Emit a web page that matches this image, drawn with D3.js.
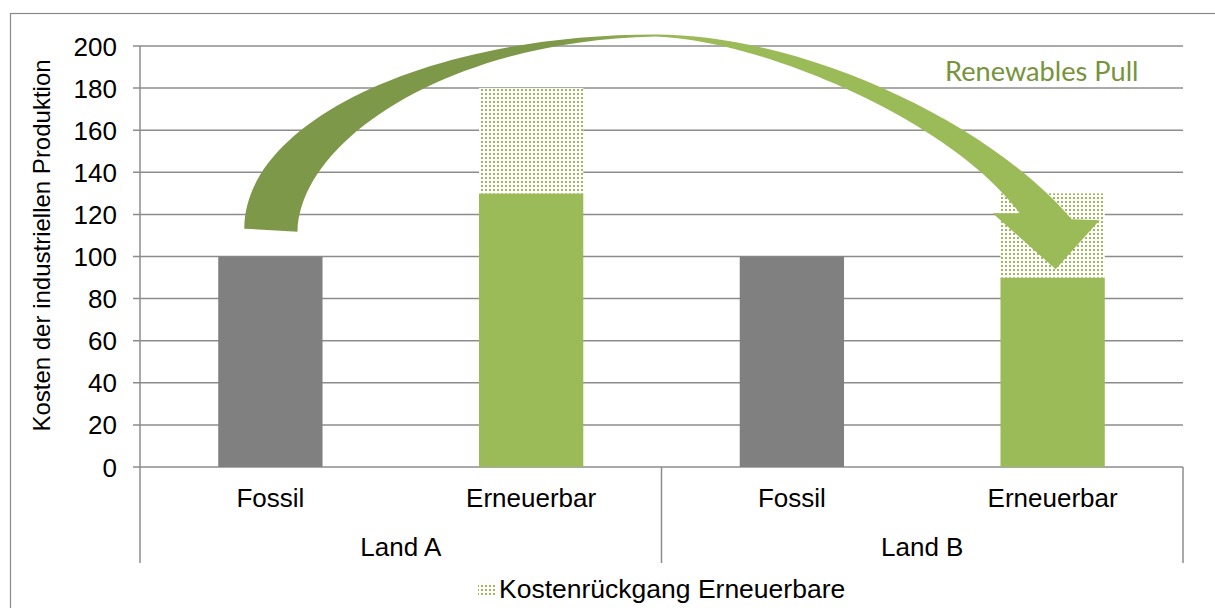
<!DOCTYPE html>
<html>
<head>
<meta charset="utf-8">
<script src="https://cdn.jsdelivr.net/npm/d3@7"></script>
<style>
  html, body { margin: 0; padding: 0; background: #fff; }
  svg { display: block; }
  text { font-family: "Liberation Sans", Arial, sans-serif; fill: #000; }
</style>
</head>
<body>
<svg id="chart" width="1215" height="608"></svg>
<script>
// Cost of industrial production per country and technology
const categories = ["A-Fossil", "A-Erneuerbar", "B-Fossil", "B-Erneuerbar"];
const categoryLabels = ["Fossil", "Erneuerbar", "Fossil", "Erneuerbar"];
const groups = ["Land A", "Land B"];
const baseCost = [100, 130, 100, 90];
const costDecline = [0, 50, 0, 40];           // dotted part stacked on top
const isFossil = [true, false, true, false];
const yTicks = [0, 20, 40, 60, 80, 100, 120, 140, 160, 180, 200];
const legendLabel = "Kostenrückgang Erneuerbare";
const yTitle = "Kosten der industriellen Produktion";
const arrowLabel = "Renewables Pull";
// arrow anchors (values on the cost axis)
const arrowTailValue = 112.5, arrowTopValue = 205.5, arrowTipValue = 94;

const svg = d3.select("#chart");
const plot = { left: 140, right: 1183, top: 46, bottom: 467 };
const axisBottom = 563;

const x = d3.scaleBand().domain(categories)
  .range([plot.left, plot.right]).paddingInner(0.6).paddingOuter(0.3);
const y = d3.scaleLinear().domain([0, 200]).range([plot.bottom, plot.top]);
const step = x.step(), bw = x.bandwidth();

const defs = svg.append("defs");
const pat = defs.append("pattern").attr("id", "dots")
  .attr("patternUnits", "userSpaceOnUse").attr("width", 4).attr("height", 4);
pat.append("rect").attr("width", 4).attr("height", 4).attr("fill", "#fff");
pat.append("rect").attr("x", 1).attr("y", 1).attr("width", 2).attr("height", 2).attr("fill", "#9BBB59");

const xMid = (x(categories[1]) + bw + x(categories[2])) / 2;
const grad = defs.append("linearGradient").attr("id", "arrowGrad")
  .attr("gradientUnits", "userSpaceOnUse")
  .attr("x1", xMid - 100).attr("x2", xMid + 20).attr("y1", 0).attr("y2", 0);
grad.append("stop").attr("offset", 0).attr("stop-color", "#7D9848");
grad.append("stop").attr("offset", 1).attr("stop-color", "#9BBB59");

// chart frame
svg.append("rect").attr("x", 10.5).attr("y", 13.5).attr("width", 1230).attr("height", 620)
  .attr("fill", "none").attr("stroke", "#8a8a8a").attr("stroke-width", 1.2);

// gridlines and ticks
const gridColor = "#8c8c8c";
svg.append("g").selectAll("line").data(yTicks).join("line")
  .attr("x1", plot.left - 7).attr("x2", plot.right)
  .attr("y1", d => y(d)).attr("y2", d => y(d))
  .attr("stroke", gridColor).attr("stroke-width", 1.5);

svg.append("g").selectAll("text").data(yTicks).join("text")
  .attr("x", plot.left - 23).attr("y", d => y(d) + 9.5)
  .attr("text-anchor", "end").attr("font-size", 26).text(d => d);

// axis lines
svg.append("line").attr("x1", plot.left).attr("x2", plot.left)
  .attr("y1", plot.top).attr("y2", axisBottom).attr("stroke", gridColor).attr("stroke-width", 1.5);
const sepX = [plot.left, x(categories[2]) - (step - bw) / 2, plot.right];
svg.append("g").selectAll("line").data(sepX.slice(1)).join("line")
  .attr("x1", d => d).attr("x2", d => d).attr("y1", plot.bottom).attr("y2", axisBottom)
  .attr("stroke", gridColor).attr("stroke-width", 1.5);

// bars
const idx = d3.range(categories.length);
svg.append("g").selectAll("rect").data(idx).join("rect")
  .attr("x", i => x(categories[i])).attr("width", bw)
  .attr("y", i => y(baseCost[i])).attr("height", i => y(0) - y(baseCost[i]))
  .attr("fill", i => isFossil[i] ? "#808080" : "#9BBB59");
svg.append("g").selectAll("rect").data(idx.filter(i => costDecline[i] > 0)).join("rect")
  .attr("x", i => x(categories[i])).attr("width", bw)
  .attr("y", i => y(baseCost[i] + costDecline[i]))
  .attr("height", i => y(baseCost[i]) - y(baseCost[i] + costDecline[i]))
  .attr("fill", "url(#dots)");

// category labels
svg.append("g").selectAll("text").data(idx).join("text")
  .attr("x", i => x(categories[i]) + bw / 2).attr("y", 507)
  .attr("text-anchor", "middle").attr("font-size", 26).text(i => categoryLabels[i]);
svg.append("g").selectAll("text").data(groups).join("text")
  .attr("x", (g, j) => (sepX[j] + sepX[j + 1]) / 2).attr("y", 556)
  .attr("text-anchor", "middle").attr("font-size", 26).text(g => g);

// y axis title
svg.append("text").attr("transform", `translate(50,${(plot.top + plot.bottom) / 2 - 11}) rotate(-90)`)
  .attr("text-anchor", "middle").attr("font-size", 24).text(yTitle);

// curved arrow
const xc = c => x(c) + bw / 2;
const x0 = xc(categories[0]), yT = y(arrowTailValue);
const xTop = xMid - 6, yTopO = y(arrowTopValue), yTopI = yTopO + 2;
const xTip = xc(categories[3]), yTip = y(arrowTipValue);
const tO = [x0 - 0.25 * bw, yT - 1.5], tI = [x0 + 0.26 * bw, yT + 1.5];
const topO = [xTop, yTopO], topI = [xTop, yTopI];
const rJoin = [xTip + 19, yTip - 50], rBarb = [xTip + 47, yTip - 49];
const tip = [xTip + 3, yTip];
const lBarb = [xTip - 60, yTip - 56], lJoin = [xTip - 33, yTip - 56];

const p = d3.path();
p.moveTo(...tO);
p.bezierCurveTo(tO[0], tO[1] - 0.552 * (tO[1] - topO[1]),
  topO[0] - 0.552 * (topO[0] - tO[0]), topO[1], ...topO);
{
  const dx = rJoin[0] - topO[0], dy = rJoin[1] - topO[1];
  p.bezierCurveTo(topO[0] + 0.35 * dx, topO[1], rJoin[0] - 0.2 * dx, rJoin[1] - 0.53 * dy, ...rJoin);
}
p.lineTo(...rBarb);
p.lineTo(...tip);
p.lineTo(...lBarb);
p.lineTo(...lJoin);
{
  const dx = lJoin[0] - topI[0], dy = lJoin[1] - topI[1];
  p.bezierCurveTo(lJoin[0] - 0.19 * dx, lJoin[1] - 0.53 * dy, topI[0] + 0.29 * dx, topI[1] + 0.02 * dy, ...topI);
}
{
  const dx = topI[0] - tI[0], dy = tI[1] - topI[1];
  p.bezierCurveTo(topI[0] - 0.574 * dx, topI[1] + 0.02 * dy, tI[0] + 0.006 * dx, tI[1] - 0.47 * dy, ...tI);
}
p.closePath();
svg.append("path").attr("d", p.toString()).attr("fill", "url(#arrowGrad)");

svg.append("text").attr("x", 945).attr("y", 81)
  .style("font-family", "Lato, 'Open Sans', sans-serif").style("fill", "#77933C")
  .attr("font-size", 27.2).text(arrowLabel);

// legend
const lg = svg.append("g");
lg.append("rect").attr("x", 478).attr("y", 583).attr("width", 17).attr("height", 14).attr("fill", "url(#dots)");
lg.append("text").attr("x", 499).attr("y", 598).attr("font-size", 26.5).text(legendLabel);
</script>
</body>
</html>
